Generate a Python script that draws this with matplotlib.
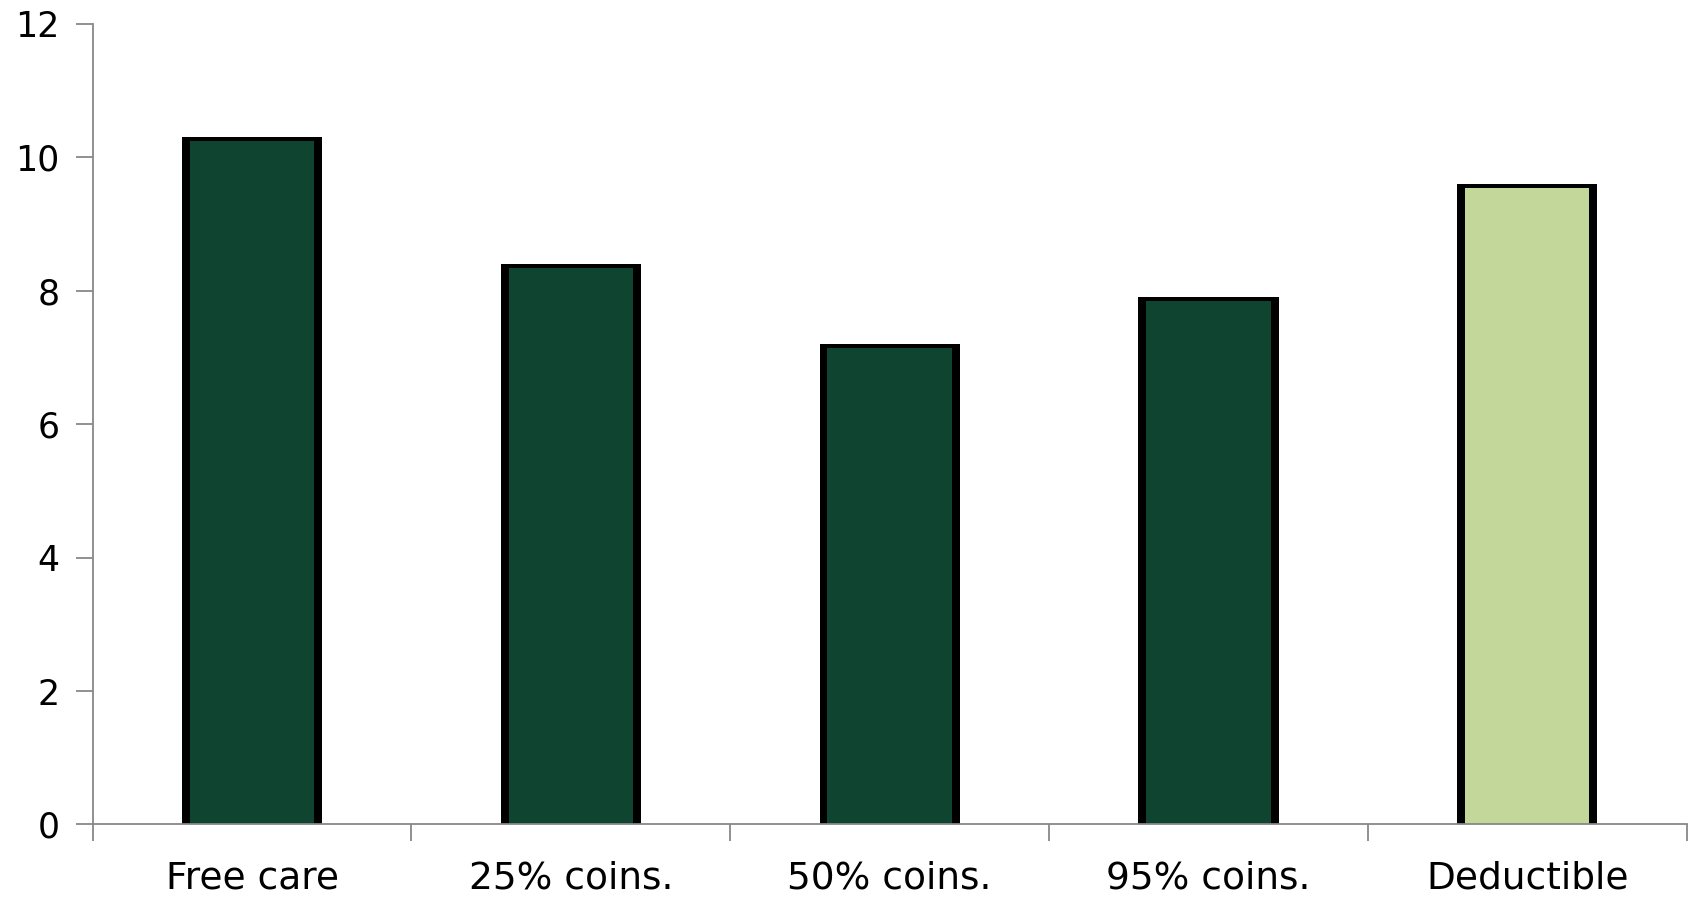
import numpy as np
import matplotlib.pyplot as plt

# Plan types and their values
plans = ["Free care", "25% coins.", "50% coins.", "95% coins.", "Deductible"]
values = [10.3, 8.4, 7.2, 7.9, 9.6]
fill_colors = ["#0f4530", "#0f4530", "#0f4530", "#0f4530", "#c4d79b"]

plt.rcParams['font.family'] = ['DejaVu Sans']

fig = plt.figure(figsize=(16.92, 8.99), dpi=100)
ax = fig.add_axes([0.0548, 0.0829, 0.942, 0.8907])

x = np.arange(len(plans))
width = 0.44

# black outline bar underneath, coloured bar on top (gives the thick side edges)
ax.bar(x, values, width=width, color="black", zorder=2)
ax.bar(x, np.array(values) - 0.06, width=width - 0.05, color=fill_colors, zorder=3)

ax.set_xlim(-0.5, len(plans) - 0.5)
ax.set_ylim(0, 12)
ax.set_yticks(range(0, 13, 2))

ax.set_xticks(x)
ax.set_xticklabels(plans)
ax.set_xticks(np.arange(-0.5, len(plans)), minor=True)
ax.tick_params(axis='x', which='major', length=0, pad=26, labelsize=27)
ax.tick_params(axis='x', which='minor', length=12, width=1.3, color="#888888")
ax.tick_params(axis='y', length=12, width=1.3, color="#888888", pad=12, labelsize=25)

for side in ["top", "right"]:
    ax.spines[side].set_visible(False)
for side in ["left", "bottom"]:
    ax.spines[side].set_color("#888888")
    ax.spines[side].set_linewidth(1.3)
    ax.spines[side].set_zorder(4)

plt.savefig("out.png", dpi=100)
